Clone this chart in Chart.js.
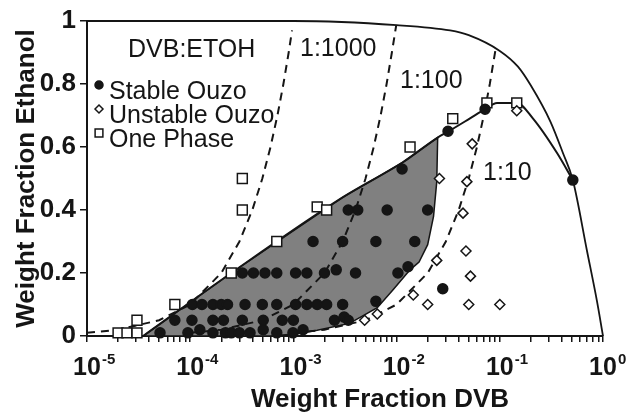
<!DOCTYPE html>
<html>
<head>
<meta charset="utf-8">
<script src="https://cdn.jsdelivr.net/npm/chart.js@4.4.1/dist/chart.umd.min.js"></script>
<style>
  body { margin: 0; background: #fff; }
  #wrap { width: 627px; height: 412px; }
</style>
</head>
<body>
<div id="wrap"><canvas id="phaseChart"></canvas></div>
<script>
// x = weight fraction DVB, y = weight fraction ethanol
const xExponents = ['-5', '-4', '-3', '-2', '-1', '0'];
const yTickLabels = ['0', '0.2', '0.4', '0.6', '0.8', '1'];

const upperCurve = [[1e-5, 1.0], [1e-3, 1.0], [0.01, 0.987], [0.033, 0.97], [0.05, 0.955], [0.1, 0.905],
  [0.15, 0.855], [0.2, 0.795], [0.31, 0.68], [0.41, 0.58], [0.51, 0.495], [0.7, 0.27], [0.875, 0.11], [1, 0]];
const lowerCurve = [[3.5e-5, 0], [2.5e-4, 0.2], [3e-3, 0.44], [0.0113, 0.55], [0.025, 0.63], [0.032, 0.65],
  [0.051, 0.69], [0.072, 0.72], [0.094, 0.74], [0.146, 0.74], [0.21, 0.69], [0.36, 0.58], [0.51, 0.495]];
const ouzoRegion = [[3.5e-5, 0], [2.5e-4, 0.2], [3e-3, 0.44], [0.0113, 0.55], [0.025, 0.63], [0.0245, 0.49],
  [0.0228, 0.38], [0.02, 0.29], [0.0165, 0.235], [0.0135, 0.21], [0.0092, 0.146], [0.0065, 0.09],
  [0.0035, 0.04], [0.0017, 0.018], [1.1e-3, 0.007], [6e-4, 0], [3.5e-5, 0]];

// dilution lines
const dil1000 = [[1e-5, 0.01], [2e-5, 0.02], [5e-5, 0.05], [1e-4, 0.1], [2e-4, 0.2], [3e-4, 0.3], [4e-4, 0.4],
  [5e-4, 0.5], [6e-4, 0.6], [7e-4, 0.7], [8e-4, 0.8], [9e-4, 0.9], [9.7e-4, 0.97]];
const dil100 = [[1e-4, 0.01], [2e-4, 0.02], [5e-4, 0.05], [1e-3, 0.1], [2e-3, 0.2], [3e-3, 0.3], [4e-3, 0.4],
  [5e-3, 0.5], [6e-3, 0.6], [7e-3, 0.7], [8e-3, 0.8], [9e-3, 0.9], [0.0099, 0.985]];
const dil10 = [[1e-3, 0.01], [2e-3, 0.02], [5e-3, 0.05], [0.01, 0.1], [0.02, 0.2], [0.03, 0.3], [0.04, 0.4],
  [0.05, 0.5], [0.06, 0.6], [0.07, 0.7], [0.08, 0.8], [0.091, 0.91]];

const stableOuzo = [
  [3.4e-3, 0.40], [4.2e-3, 0.40], [8.1e-3, 0.40], [0.020, 0.40], [0.0113, 0.53],
  [1.55e-3, 0.30], [3.0e-3, 0.30], [6.3e-3, 0.30], [0.015, 0.30],
  [3.2e-4, 0.20], [4.1e-4, 0.20], [5.3e-4, 0.20], [6.9e-4, 0.20], [1.05e-3, 0.20], [1.35e-3, 0.20],
  [2.0e-3, 0.20], [2.6e-3, 0.21], [4.0e-3, 0.20], [0.0103, 0.20], [0.0129, 0.22],
  [1.05e-4, 0.10], [1.3e-4, 0.10], [1.66e-4, 0.10], [2.0e-4, 0.10], [2.3e-4, 0.10], [3.4e-4, 0.10],
  [5.0e-4, 0.10], [6.9e-4, 0.10], [1.05e-3, 0.10], [1.35e-3, 0.10], [1.7e-3, 0.10], [2.1e-3, 0.10],
  [3.0e-3, 0.10], [6.3e-3, 0.11],
  [7.1e-5, 0.05], [1.04e-4, 0.05], [1.66e-4, 0.05], [2.1e-4, 0.05], [3.2e-4, 0.05], [5.1e-4, 0.05],
  [7.8e-4, 0.05], [1.0e-3, 0.05], [2.5e-3, 0.05], [3.1e-3, 0.06], [3.4e-3, 0.05],
  [5.1e-5, 0.01], [9.5e-5, 0.01], [1.24e-4, 0.02], [1.66e-4, 0.01], [2.2e-4, 0.01], [2.5e-4, 0.01],
  [3.0e-4, 0.01], [3.8e-4, 0.01], [5.1e-4, 0.02], [6.9e-4, 0.01], [9.9e-4, 0.01], [1.24e-3, 0.02],
  [0.028, 0.15], [0.0315, 0.65], [0.072, 0.72], [0.51, 0.495]
];
const unstableOuzo = [
  [0.026, 0.50], [0.048, 0.49], [0.054, 0.61], [0.146, 0.715], [0.044, 0.39], [0.047, 0.27],
  [0.0245, 0.24], [0.052, 0.19], [0.0145, 0.13], [0.020, 0.10], [0.050, 0.10], [0.10, 0.10],
  [0.0065, 0.07], [0.0049, 0.05]
];
const onePhase = [
  [2.0e-5, 0.01], [2.44e-5, 0.01], [3.05e-5, 0.01], [3.05e-5, 0.05], [7.1e-5, 0.10], [2.5e-4, 0.20],
  [3.2e-4, 0.40], [3.2e-4, 0.50], [6.9e-4, 0.30], [1.7e-3, 0.41], [2.1e-3, 0.40], [0.0135, 0.60],
  [0.035, 0.69], [0.075, 0.74], [0.146, 0.74]
];

const FONT = '"Liberation Sans", Arial, sans-serif';
const INK = '#151515';
const pts = arr => arr.map(([x, y]) => ({x, y}));

function curve(data, extra) {
  return Object.assign({
    type: 'line', data: pts(data), borderColor: INK, borderWidth: 2, pointRadius: 0,
    fill: false, tension: 0, clip: 4
  }, extra);
}
function markers(data, extra) {
  return Object.assign({
    type: 'line', data: pts(data), showLine: false, borderColor: INK, pointBorderColor: INK,
    pointBorderWidth: 1.5, clip: false, order: 0
  }, extra);
}

// annotation text and legend, drawn after the chart
const legendRows = [
  {label: 'Stable Ouzo', style: 'circle', fill: INK, r: 4},
  {label: 'Unstable Ouzo', style: 'rectRot', fill: '#fff', r: 4},
  {label: 'One Phase', style: 'rect', fill: '#fff', r: 5.5}
];
const notes = [
  {text: 'DVB:ETOH', x: 128, y: 57},
  {text: '1:1000', x: 300, y: 56},
  {text: '1:100', x: 400, y: 88},
  {text: '1:10', x: 483, y: 180}
];

const extras = {
  id: 'extras',
  afterDraw(chart) {
    const {ctx} = chart;
    const x = chart.scales.x;
    ctx.save();
    ctx.fillStyle = INK;
    ctx.textBaseline = 'alphabetic';
    // x tick labels 10^n
    xExponents.forEach(e => {
      const px = x.getPixelForValue(Math.pow(10, Number(e)));
      ctx.font = 'bold 25px ' + FONT;
      ctx.textAlign = 'center';
      ctx.fillText('10', px, 375);
      const w = ctx.measureText('10').width;
      ctx.font = 'bold 15px ' + FONT;
      ctx.textAlign = 'left';
      ctx.fillText(e, px + w / 2 + 1, 364);
    });
    // x axis title
    ctx.font = 'bold 26px ' + FONT;
    ctx.textAlign = 'center';
    ctx.fillText('Weight Fraction DVB', 380, 407);
    // annotations
    ctx.font = '25px ' + FONT;
    ctx.textAlign = 'left';
    notes.forEach(n => ctx.fillText(n.text, n.x, n.y));
    // legend
    legendRows.forEach((row, i) => {
      const base = 99 + i * 24;
      ctx.fillStyle = INK;
      ctx.fillText(row.label, 109, base);
      ctx.fillStyle = row.fill;
      ctx.strokeStyle = INK;
      ctx.lineWidth = 1.5;
      Chart.helpers.drawPoint(ctx, {pointStyle: row.style, radius: row.r, rotation: 0, borderWidth: 1.5},
        99, base - 14);
    });
    ctx.restore();
  }
};

new Chart(document.getElementById('phaseChart'), {
  type: 'line',
  data: {
    datasets: [
      markers(stableOuzo, {label: 'Stable Ouzo', pointStyle: 'circle', pointRadius: 5, pointBackgroundColor: INK, order: 0}),
      markers(unstableOuzo, {label: 'Unstable Ouzo', pointStyle: 'rectRot', pointRadius: 5, pointBackgroundColor: '#fff', order: 1}),
      markers(onePhase, {label: 'One Phase', pointStyle: 'rect', pointRadius: 7, pointBackgroundColor: '#fff', order: 1}),
      curve(upperCurve, {label: 'upper', cubicInterpolationMode: 'monotone', borderWidth: 1.8, order: 3}),
      curve(lowerCurve, {label: 'lower', cubicInterpolationMode: 'monotone', order: 3}),
      curve(dil1000, {label: '1:1000', borderDash: [8, 6], order: 4}),
      curve(dil100, {label: '1:100', borderDash: [8, 6], order: 4}),
      curve(dil10, {label: '1:10', borderDash: [8, 6], order: 4}),
      curve(ouzoRegion, {label: 'ouzo region', fill: 'shape', backgroundColor: '#808080', borderWidth: 1.5, order: 6})
    ]
  },
  options: {
    responsive: true,
    maintainAspectRatio: false,
    animation: false,
    layout: {padding: {top: 21, right: 24, left: 0, bottom: 0}},
    plugins: {legend: {display: false}, tooltip: {enabled: false}},
    scales: {
      x: {
        type: 'logarithmic', min: 1e-5, max: 1,
        afterBuildTicks: s => {
          const t = [];
          for (let k = -5; k < 0; k++) for (let m = 1; m < 10; m++) t.push({value: m * Math.pow(10, k)});
          t.push({value: 1});
          s.ticks = t;
        },
        afterFit: s => { s.height = 76; },
        ticks: {display: false},
        grid: {drawOnChartArea: false, drawTicks: true, tickLength: 6, color: INK, lineWidth: 1.5},
        border: {display: true, color: INK, width: 2}
      },
      y: {
        type: 'linear', min: 0, max: 1,
        afterFit: s => { s.width = 87; },
        ticks: {
          stepSize: 0.1, padding: 4, color: INK,
          font: {family: FONT, size: 26, weight: 'bold'},
          callback: v => {
            const i = Math.round(v * 10);
            return i % 2 === 0 ? yTickLabels[i / 2] : '';
          }
        },
        grid: {drawOnChartArea: false, tickLength: 7, color: INK, lineWidth: 1.5},
        border: {display: true, color: INK, width: 2},
        title: {
          display: true, text: 'Weight Fraction Ethanol', color: INK,
          font: {family: FONT, size: 26, weight: 'bold'}, padding: {top: 11, bottom: 0}
        }
      }
    }
  },
  plugins: [extras]
});
</script>
</body>
</html>
